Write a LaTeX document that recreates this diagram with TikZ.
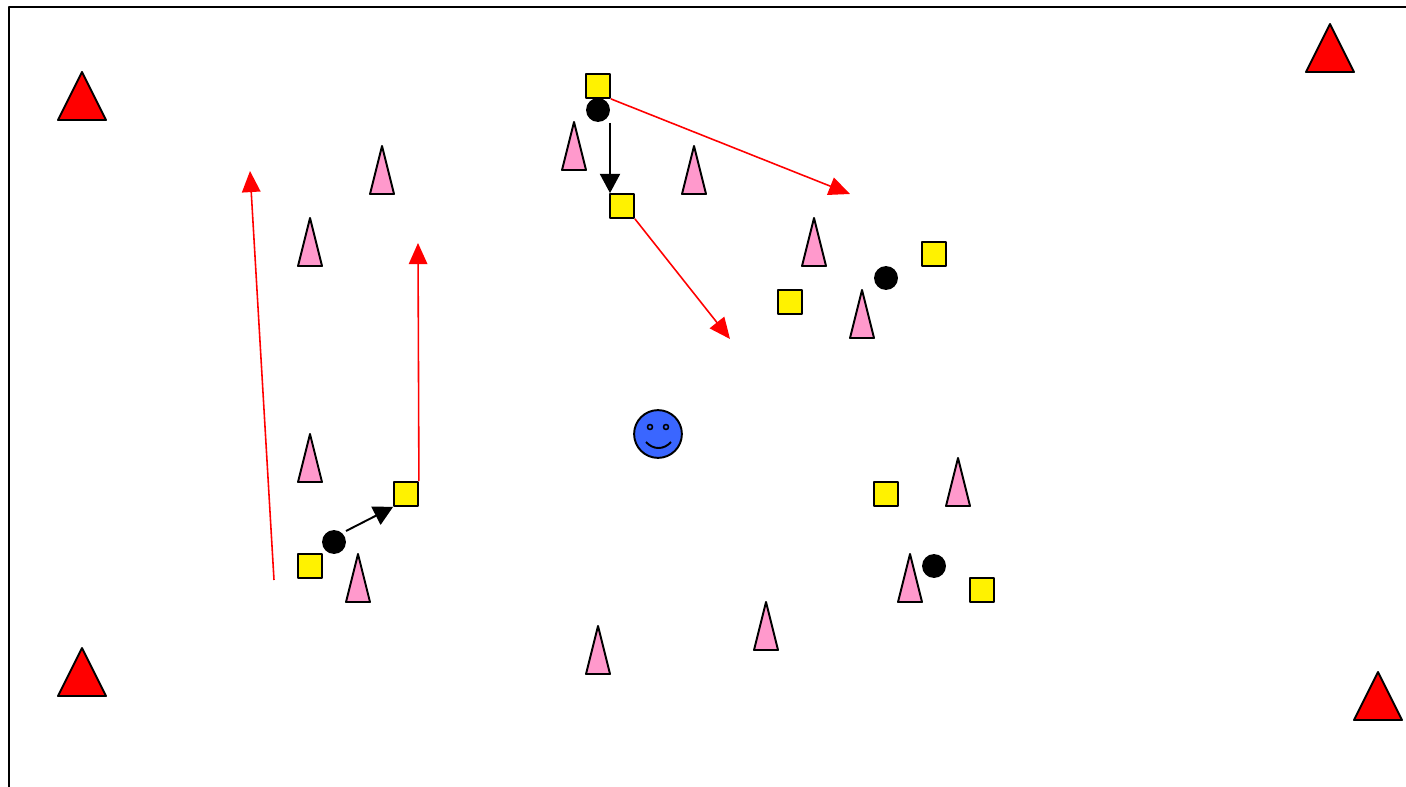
\documentclass[tikz,border=0pt]{standalone}
\usetikzlibrary{arrows.meta}

\definecolor{conepink}{HTML}{FF99CC}
\definecolor{facebl}{HTML}{3A66FF}

\tikzset{
  marker/.style={draw, line width=1.1pt, fill=yellow, minimum size=13.6pt, inner sep=0pt},
  ball/.style={circle, fill=black, minimum size=13.6pt, inner sep=0pt},
  run/.style={red, line width=0.9pt, -{Triangle[length=12pt, width=10.5pt]}},
  pass/.style={black, line width=1.1pt, -{Triangle[length=11pt, width=11.5pt]}},
}

\begin{document}
\begin{tikzpicture}[x=0.02cm, y=-0.02cm, line join=round]
  \useasboundingbox (0,0) rectangle (1406,787);
  \draw[line width=1.1pt] (1420,7) -- (9,7) -- (9,800);
  % big corner triangles
  \foreach \x/\y in {82/72, 1330/24, 82/648, 1378/672}
    \filldraw[fill=red, line width=1.1pt] (\x,\y) -- (\x+24,\y+48) -- (\x-24,\y+48) -- cycle;
  % cones
  \foreach \x/\y in {382/146, 310/218, 574/122, 694/146, 814/218, 862/290,
                     310/434, 358/554, 958/458, 910/554, 766/602, 598/626}
    \filldraw[fill=conepink, line width=1.1pt] (\x,\y) -- (\x+12,\y+48) -- (\x-12,\y+48) -- cycle;
  % markers
  \node[marker] (m1) at (598,86) {};
  \node[marker] (m2) at (622,206) {};
  \node[marker] (m3) at (934,254) {};
  \node[marker] (m4) at (790,302) {};
  \node[marker] (m5) at (406,494) {};
  \node[marker] (m6) at (310,566) {};
  \node[marker] (m7) at (886,494) {};
  \node[marker] (m8) at (982,590) {};
  % balls
  \node[ball] (b1) at (598,110) {};
  \node[ball] (b2) at (886,278) {};
  \node[ball] (b3) at (334,542) {};
  \node[ball] (b4) at (934,566) {};
  % smiley
  \node[circle, draw, line width=1.1pt, fill=facebl, minimum size=27.2pt, inner sep=0pt] (face) at (658,434) {};
  \draw[line width=0.9pt] (650,427) circle (2.5);
  \draw[line width=0.9pt] (666,427) circle (2.5);
  \draw[line width=1.1pt] (646,442) .. controls (653,450) and (664,450) .. (671,442);
  % run ends
  \coordinate (r1) at (850,194);
  \coordinate (r2) at (730,339);
  \coordinate (r3s) at (274,580);
  \coordinate (r3) at (250,171);
  \coordinate (r4) at (418,243);
  \coordinate (p1s) at (610,123);
  \coordinate (p2s) at (346,531);
  % passes and runs
  \draw[pass] (p1s) -- (m2.north -| p1s);
  \draw[pass] (p2s) -- (m5.south west);
  \draw[run] (m1.south east) -- (r1);
  \draw[run] (m2.south east) -- (r2);
  \draw[run] (r3s) -- (r3);
  \draw[run] (m5.north east) -- (r4);
\end{tikzpicture}
\end{document}
